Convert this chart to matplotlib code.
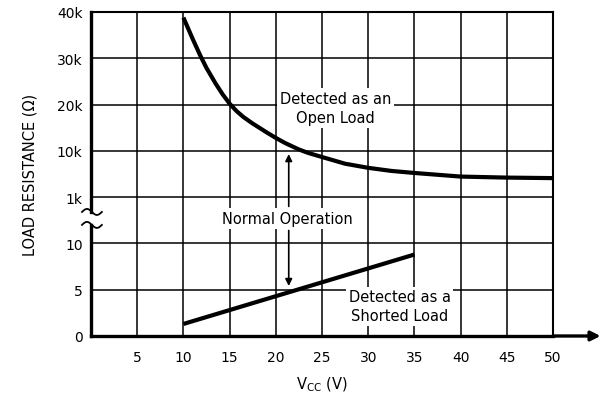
import matplotlib.pyplot as plt
import numpy as np

# Datos (ohmios)
vcc_open = [10, 11, 11.8, 12.5, 13.5, 14.25, 15, 15.75, 16.5, 17.5, 19, 20,
            21, 22.5, 23.5, 25, 27.5, 30, 32.5, 35, 40, 45, 50]
r_open = [38800, 34200, 30700, 27900, 24500, 22200, 20200, 18600, 17300,
          15900, 14000, 12800, 11700, 10300, 9600, 8800, 7500, 6700, 6100,
          5700, 5000, 4800, 4700]
vcc_short = [10, 35]
r_short = [1.3, 8.8]

# eje Y partido: 0-10 ohm abajo, 1k-40k arriba
y_ticks_r = [0, 5, 10, 1000, 10000, 20000, 30000, 40000]
y_labels = ['0', '5', '10', '1k', '10k', '20k', '30k', '40k']
y_pos = np.arange(len(y_ticks_r))
x_ticks = [5, 10, 15, 20, 25, 30, 35, 40, 45, 50]


def a_pos(r):
    return np.interp(r, y_ticks_r, y_pos)


plt.rcParams['font.family'] = 'DejaVu Sans'
fig = plt.figure(figsize=(6, 4.14), dpi=100)
ax = fig.add_axes([91 / 600, 77 / 414, 462 / 600, 324 / 414])

ax.set_xlim(0, 50)
ax.set_ylim(0, 7)
ax.set_xticks(x_ticks)
ax.set_yticks(y_pos)
ax.set_yticklabels(y_labels)
ax.tick_params(length=0, labelsize=10)
ax.tick_params(axis='y', pad=6)
ax.tick_params(axis='x', pad=10)
ax.grid(True, color='black', linewidth=1.1)
ax.set_axisbelow(True)

for s in ['top', 'right']:
    ax.spines[s].set_linewidth(1.5)
ax.spines['bottom'].set_linewidth(2.4)
ax.spines['left'].set_visible(False)

# eje izquierdo con corte
yt = ax.get_yaxis_transform()
ax.plot([0, 0], [0, 2.4], color='black', lw=2.4, transform=yt, clip_on=False,
        solid_capstyle='projecting')
ax.plot([0, 0], [2.68, 7], color='black', lw=2.4, transform=yt, clip_on=False,
        solid_capstyle='projecting')
t = np.linspace(0, 1, 40)
for y0 in [2.68, 2.4]:
    ax.plot(-0.0195 + 0.043 * t, y0 + 0.065 * np.sin(2 * np.pi * t),
            color='black', lw=1.3, transform=yt, clip_on=False)

ax.plot(vcc_open, a_pos(r_open), color='black', lw=3, solid_capstyle='butt', zorder=3)
ax.plot(vcc_short, a_pos(r_short), color='black', lw=3, solid_capstyle='butt', zorder=3)

# flecha del eje X
ax.annotate('', xy=(1.103, 0), xytext=(1.0, 0), xycoords='axes fraction',
            arrowprops=dict(arrowstyle='-|>', color='black', lw=2.4,
                            mutation_scale=14, shrinkA=0, shrinkB=0),
            annotation_clip=False)

box = dict(facecolor='white', edgecolor='none', pad=2)
ax.text(26.5, 4.92, 'Detected as an\nOpen Load', ha='center', va='center',
        fontsize=10.5, linespacing=1.35, bbox=box, zorder=2)
ax.text(21.2, 2.54, 'Normal Operation', ha='center', va='center',
        fontsize=10.5, bbox=box, zorder=2)
ax.text(33.4, 0.64, 'Detected as a\nShorted Load', ha='center', va='center',
        fontsize=10.5, linespacing=1.35, bbox=box, zorder=2)

# flechas de operación normal
ax.annotate('', xy=(21.4, 3.93), xytext=(21.4, 2.8),
            arrowprops=dict(arrowstyle='-|>', color='black', lw=1.2,
                            mutation_scale=10, shrinkA=0, shrinkB=0))
ax.annotate('', xy=(21.4, 1.08), xytext=(21.4, 2.28),
            arrowprops=dict(arrowstyle='-|>', color='black', lw=1.2,
                            mutation_scale=10, shrinkA=0, shrinkB=0))

ax.set_xlabel(r'V$_{\mathrm{CC}}$ (V)', fontsize=10.5, labelpad=8)
ax.set_ylabel('LOAD RESISTANCE (Ω)', fontsize=10.5, labelpad=14)

fig.savefig('out.png', dpi=100)
